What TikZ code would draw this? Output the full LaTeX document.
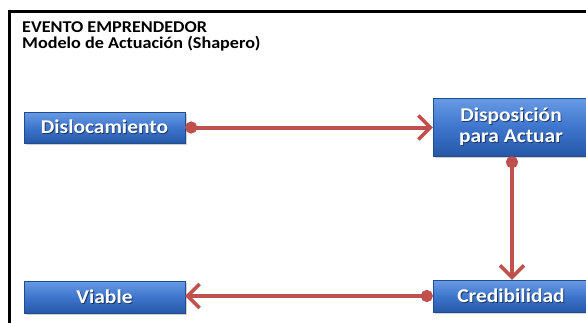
\documentclass[tikz,border=0pt]{standalone}
\usepackage{fontspec}
\setmainfont{Carlito}[FakeStretch=1.1]
\usetikzlibrary{arrows.meta,shadows}
\definecolor{arrred}{RGB}{192,80,77}
\definecolor{boxtop}{RGB}{105,155,228}
\definecolor{boxmid}{RGB}{62,118,205}
\definecolor{boxbot}{RGB}{38,88,168}
\definecolor{txtshadow}{RGB}{30,55,100}
\newcommand{\shtext}[1]{\rlap{\kern0.9pt\raisebox{-0.9pt}{\textcolor{txtshadow}{#1}}}#1}
\tikzset{
  stepbox/.style={rectangle, inner sep=0pt, top color=boxtop, bottom color=boxbot, middle color=boxmid,
    draw=boxbot!85!black, line width=0.4pt,
    drop shadow={shadow xshift=1.5pt, shadow yshift=-1.5pt, opacity=0.35},
    text=white, font=\fontsize{19.5}{22}\selectfont\bfseries, align=center},
  titletext/.style={anchor=base west, inner sep=0pt, font=\fontsize{16.5}{18}\selectfont\bfseries},
  link/.style={draw=arrred, line width=4pt,
    {Circle[length=12pt,fill=arrred]}-{Straight Barb[length=12pt,width=24pt,line width=3.5pt]}},
}
\begin{document}
\begin{tikzpicture}[x=1pt,y=-1pt]
\useasboundingbox (0,0) rectangle (586,322);
\clip (0,0) rectangle (586,322);
\fill[white] (0,0) rectangle (586,322);
\draw[line width=3pt] (9,340) |- (600,11);
\node[titletext] (title1) at (22,32) {EVENTO EMPRENDEDOR};
\node[titletext] (title2) at (22,48) {Modelo de Actuación (Shapero)};
\node[stepbox, minimum width=161pt, minimum height=31pt] (dis) at (104.5,127.5) {\shtext{Dislocamiento}};
\node[stepbox, minimum width=156pt, minimum height=58pt] (disp) at (511,127) {\shtext{Disposición}\\[-1pt]\shtext{para Actuar}};
\node[stepbox, minimum width=156pt, minimum height=32pt] (cred) at (511,296) {\shtext{Credibilidad}};
\node[stepbox, minimum width=161pt, minimum height=32pt] (via) at (104.5,297) {\shtext{Viable}};
\draw[link] (dis.east) -- (disp.west |- dis.east);
\draw[link] (disp.south) ++(1,0) coordinate (ds) (ds) -- (ds |- cred.north);
\draw[link] (cred.west) -- (via.east |- cred.west);
\end{tikzpicture}
\end{document}
